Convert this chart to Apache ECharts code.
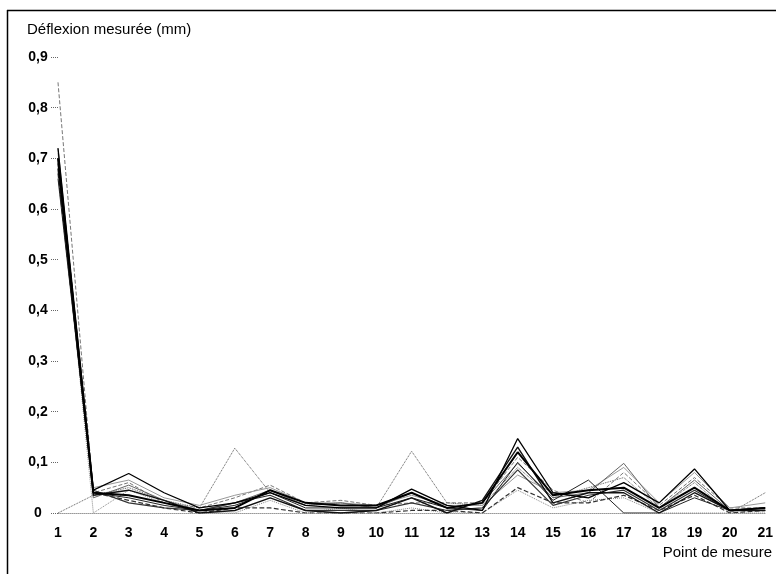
<!DOCTYPE html>
<html>
<head>
<meta charset="utf-8">
<script src="https://cdn.jsdelivr.net/npm/echarts@6/dist/echarts.min.js"></script>
<style>html,body{margin:0;padding:0;background:#fff}#c{width:776px;height:574px}</style>
</head>
<body>
<div id="c"></div>
<script>
var categories = ['1','2','3','4','5','6','7','8','9','10','11','12','13','14','15','16','17','18','19','20','21'];
var yTicks = [0, 0.1, 0.2, 0.3, 0.4, 0.5, 0.6, 0.7, 0.8, 0.9];
var s1  = [0.70, 0.040, 0.035, 0.020, 0.005, 0.010, 0.045, 0.020, 0.015, 0.015, 0.040, 0.010, 0.020, 0.120, 0.035, 0.045, 0.050, 0.010, 0.050, 0.005, 0.010];
var s2  = [0.72, 0.045, 0.078, 0.040, 0.010, 0.020, 0.040, 0.015, 0.010, 0.010, 0.047, 0.015, 0.005, 0.147, 0.040, 0.030, 0.060, 0.020, 0.087, 0.005, 0.010];
var s3  = [0.68, 0.035, 0.045, 0.025, 0.000, 0.005, 0.030, 0.005, 0.000, 0.005, 0.030, 0.000, 0.025, 0.130, 0.020, 0.040, 0.040, 0.000, 0.040, 0.005, 0.005];
var s4  = [0.85, 0.040, 0.060, 0.020, 0.010, 0.030, 0.055, 0.020, 0.025, 0.015, 0.020, 0.020, 0.020, 0.110, 0.045, 0.020, 0.080, 0.015, 0.070, 0.010, 0.010];
var s5  = [0.00, 0.035, 0.050, 0.025, 0.010, 0.128, 0.040, 0.015, 0.020, 0.010, 0.122, 0.020, 0.015, 0.090, 0.030, 0.050, 0.070, 0.010, 0.060, 0.000, 0.040];
var s6  = [0.70, 0.000, 0.045, 0.020, 0.000, 0.000, 0.025, 0.000, 0.010, 0.000, 0.010, 0.000, 0.000, 0.045, 0.010, 0.025, 0.030, 0.000, 0.000, 0.000, 0.000];
var s7  = [0.66, 0.040, 0.030, 0.015, 0.005, 0.015, 0.040, 0.010, 0.010, 0.010, 0.030, 0.010, 0.005, 0.100, 0.025, 0.065, 0.000, 0.000, 0.030, 0.005, 0.005];
var s8  = [0.69, 0.045, 0.020, 0.010, 0.005, 0.020, 0.035, 0.005, 0.005, 0.005, 0.020, 0.005, 0.010, 0.085, 0.015, 0.035, 0.045, 0.005, 0.045, 0.005, 0.005];
var s9  = [0.71, 0.050, 0.065, 0.030, 0.015, 0.035, 0.050, 0.020, 0.020, 0.015, 0.035, 0.015, 0.015, 0.075, 0.040, 0.045, 0.090, 0.020, 0.080, 0.010, 0.020];
var s10 = [0.67, 0.040, 0.025, 0.010, 0.000, 0.010, 0.010, 0.000, 0.000, 0.000, 0.005, 0.005, 0.000, 0.050, 0.020, 0.020, 0.035, 0.005, 0.035, 0.000, 0.005];
var s11 = [0.72, 0.030, 0.055, 0.025, 0.005, 0.020, 0.045, 0.015, 0.020, 0.010, 0.040, 0.010, 0.020, 0.098, 0.030, 0.040, 0.098, 0.010, 0.065, 0.005, 0.010];

var seriesList = [
  {d: s4,  c: '#777', w: 1, t: 'dashed'},
  {d: s5,  c: '#444', w: 0.9, t: 'dotted'},
  {d: s6,  c: '#888', w: 1, t: 'dotted'},
  {d: s9,  c: '#999', w: 1, t: 'solid'},
  {d: s11, c: '#666', w: 1, t: 'solid'},
  {d: s10, c: '#333', w: 1.2, t: 'dashed'},
  {d: s8,  c: '#333', w: 1.2, t: 'solid'},
  {d: s7,  c: '#222', w: 1, t: 'solid'},
  {d: s3,  c: '#111', w: 1.4, t: 'solid'},
  {d: s1,  c: '#000', w: 2, t: 'solid'},
  {d: s2,  c: '#000', w: 1.3, t: 'solid'}
];

var FONT = 'Liberation Sans, Arial, sans-serif';
var chart = echarts.init(document.getElementById('c'), null, {renderer: 'canvas'});
chart.setOption({
  animation: false,
  backgroundColor: '#fff',
  textStyle: {fontFamily: FONT},
  grid: {left: 58, right: 10, top: 57, bottom: 61, containLabel: false},
  xAxis: {
    type: 'category', data: categories, boundaryGap: false,
    axisLine: {show: true, lineStyle: {color: '#999', type: 'dotted', width: 1}},
    axisTick: {show: false},
    axisLabel: {margin: 13, color: '#000', fontSize: 14, fontWeight: 'bold', fontFamily: FONT},
    splitLine: {show: false}
  },
  yAxis: {
    type: 'value', min: yTicks[0], max: yTicks[yTicks.length - 1], interval: 0.1,
    axisLine: {show: false},
    axisTick: {show: true, length: 7, lineStyle: {color: '#666', type: 'dotted'}},
    axisLabel: {margin: 20, align: 'center', color: '#000', fontSize: 14, fontWeight: 'bold', fontFamily: FONT,
      formatter: function (v) { return v === 0 ? '0' : String(Math.round(v * 10) / 10).replace('.', ','); }},
    splitLine: {show: false}
  },
  graphic: [
    {type: 'line', shape: {x1: 7, y1: 10.5, x2: 776, y2: 10.5}, style: {stroke: '#000', lineWidth: 1.5}, silent: true},
    {type: 'line', shape: {x1: 7.5, y1: 10, x2: 7.5, y2: 574}, style: {stroke: '#000', lineWidth: 1.5}, silent: true},
    {type: 'text', left: 27, top: 22, style: {text: 'Déflexion mesurée (mm)', fill: '#000', font: '15px "Liberation Sans", Arial, sans-serif'}},
    {type: 'text', right: 4, top: 545, style: {text: 'Point de mesure', fill: '#000', font: '15px "Liberation Sans", Arial, sans-serif'}}
  ],
  series: seriesList.map(function (s, i) {
    return {
      type: 'line', name: 'S' + (i + 1), data: s.d, showSymbol: false, symbol: 'none',
      lineStyle: {color: s.c, width: s.w, type: s.t}, z: 2 + i
    };
  })
});
</script>
</body>
</html>
